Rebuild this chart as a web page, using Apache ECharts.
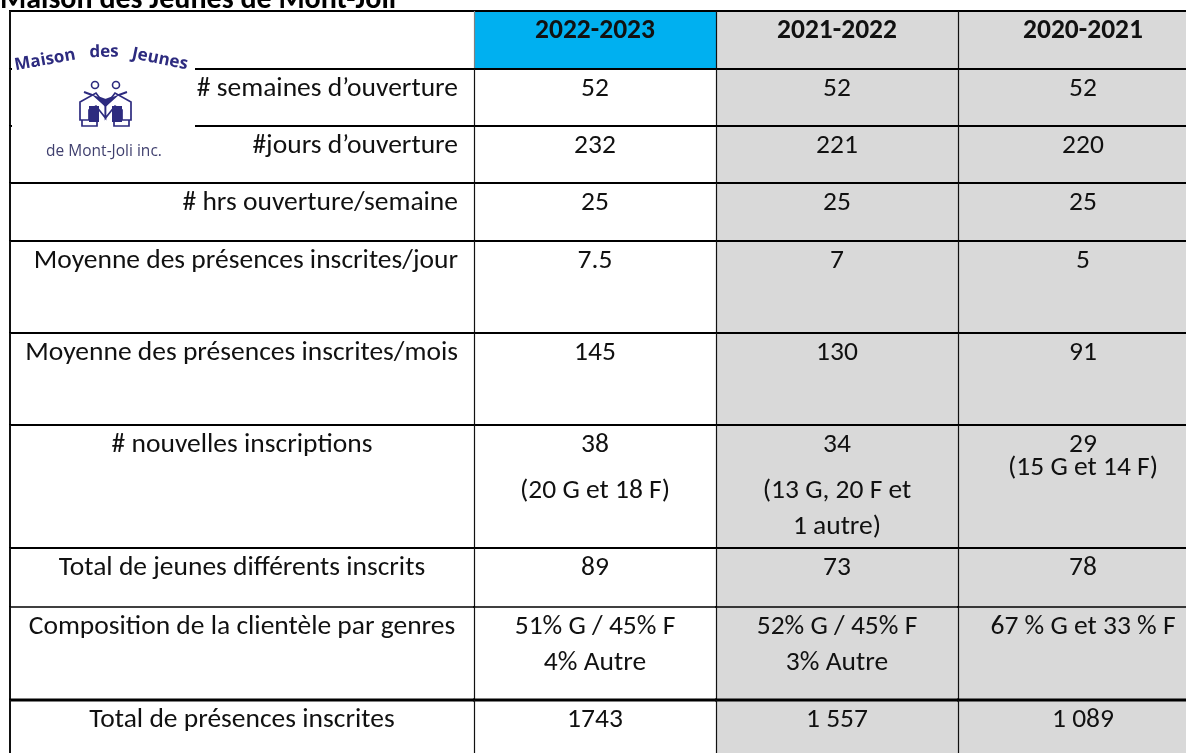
<!DOCTYPE html>
<html>
<head>
<meta charset="utf-8">
<script src="https://cdn.jsdelivr.net/npm/echarts@6/dist/echarts.min.js"></script>
<style>
  html, body { margin: 0; padding: 0; background: #fff; }
  #main { width: 1186px; height: 753px; }
</style>
</head>
<body>
<div id="main"></div>
<script>
// données du tableau
var years = ['2022-2023', '2021-2022', '2020-2021'];
var labels = [
  '# semaines d\u2019ouverture',
  '#jours d\u2019ouverture',
  '# hrs ouverture/semaine',
  'Moyenne des présences inscrites/jour',
  'Moyenne des présences inscrites/mois',
  '# nouvelles inscriptions',
  'Total de jeunes différents inscrits',
  'Composition de la clientèle par genres',
  'Total de présences inscrites'
];
var values2022 = ['52', '232', '25', '7.5', '145', ['38', '(20 G et 18 F)'], '89', ['51% G / 45% F', '4% Autre'], '1743'];
var values2021 = ['52', '221', '25', '7', '130', ['34', '(13 G, 20 F et', '1 autre)'], '73', ['52% G / 45% F', '3% Autre'], '1\u202f557'];
var values2020 = ['52', '220', '25', '5', '91', ['29', '(15 G et 14 F)'], '78', '67 % G et 33 % F', '1\u202f089'];

// mise en page
var colWidths = [464, 242, 242, 250];
var rowHeights = [58, 57, 57, 58, 92, 92, 123, 59, 93, 58];
var rowTopWidth = [2, 2, 2, 2, 2, 2, 2, 2, 1.5, 3];
var labelAlign = ['right', 'right', 'right', 'right', 'right', 'center', 'center', 'center', 'center'];
var colFill = ['#ffffff', '#ffffff', '#d9d9d9', '#d9d9d9'];
var headerFill = ['#ffffff', '#00b0f0', '#d9d9d9', '#d9d9d9'];
var FONT = 'Carlito, Calibri, Lato, sans-serif';
var FS = 27.5;

function cum(arr, n) {
  var s = 0;
  for (var i = 0; i < n; i++) s += arr[i];
  return s;
}

// construire les cellules
var cells = [];
var seriesData = [];
function addCell(col, row, text, bold) {
  var lines = Array.isArray(text) ? text : [text];
  cells.push({ lines: lines, bold: bold });
  seriesData.push([col, row]);
}
addCell(0, 0, '', false);
years.forEach(function (y, i) { addCell(i + 1, 0, y, true); });
var allValues = [values2022, values2021, values2020];
labels.forEach(function (lab, r) {
  addCell(0, r + 1, lab, false);
  allValues.forEach(function (vals, c) { addCell(c + 1, r + 1, vals[r], false); });
});

function lineOffsets(col, row, n) {
  if (row === 6 && col > 0) {
    if (col === 3) return [20, 43];
    return [20, 66, 102];
  }
  var out = [];
  for (var i = 0; i < n; i++) out.push(20 + 36 * i);
  return out;
}

function renderItem(params, api) {
  var col = api.value(0), row = api.value(1);
  var x0 = cum(colWidths, col), y0 = cum(rowHeights, row);
  var p0 = api.coord([x0, y0]);
  var p1 = api.coord([x0 + colWidths[col], y0 + rowHeights[row]]);
  var cell = cells[params.dataIndex];
  var kids = [];
  kids.push({
    type: 'rect', z2: 0,
    shape: { x: p0[0], y: p0[1], width: p1[0] - p0[0], height: p1[1] - p0[1] },
    style: { fill: row === 0 ? headerFill[col] : colFill[col] }
  });
  // bord du haut
  kids.push({
    type: 'line', z2: 10,
    shape: { x1: p0[0] - 1, y1: p0[1], x2: p1[0] + 1, y2: p0[1] },
    style: { stroke: '#000', lineWidth: rowTopWidth[row] }
  });
  // bord gauche
  var lw = col === 0 ? 2 : 1.2;
  var ls = (col === 1 && row === 0) ? '#808080' : '#111';
  var lx = p0[0] + (col === 0 ? 0 : 0.5);
  kids.push({
    type: 'line', z2: 10,
    shape: { x1: lx, y1: p0[1], x2: lx, y2: p1[1] },
    style: { stroke: ls, lineWidth: lw }
  });
  if (row === rowHeights.length - 1) {
    kids.push({
      type: 'line', z2: 10,
      shape: { x1: p0[0], y1: p1[1], x2: p1[0], y2: p1[1] },
      style: { stroke: '#000', lineWidth: 2 }
    });
  }
  var offs = lineOffsets(col, row, cell.lines.length);
  var align = col === 0 ? labelAlign[row - 1] : 'center';
  var tx = align === 'right' ? p1[0] - 16 : (p0[0] + p1[0]) / 2;
  cell.lines.forEach(function (t, i) {
    kids.push({
      type: 'text', z2: 20,
      x: tx, y: p0[1] + offs[i],
      style: {
        text: t, fill: '#111',
        font: (cell.bold ? 'bold ' : '') + FS + 'px ' + FONT,
        align: align, verticalAlign: 'middle'
      }
    });
  });
  return { type: 'group', children: kids };
}

// logo (décoratif)
var NAVY = '#2d2b7f';
var LOGO_FONT = 'bold 17px "Open Sans", sans-serif';
var logoParts = [
  { type: 'rect', shape: { x: 0, y: 0, width: 183, height: 142 }, style: { fill: '#fff' } },
  { type: 'text', x: 33, y: 22, rotation: 0.18, style: { text: 'Maison', font: LOGO_FONT, fill: NAVY, align: 'center', verticalAlign: 'middle' } },
  { type: 'text', x: 92, y: 14, rotation: 0.02, style: { text: 'des', font: LOGO_FONT, fill: NAVY, align: 'center', verticalAlign: 'middle' } },
  { type: 'text', x: 148, y: 21, rotation: -0.2, style: { text: 'Jeunes', font: LOGO_FONT, fill: NAVY, align: 'center', verticalAlign: 'middle' } },
  // icône
  { type: 'circle', shape: { cx: 83, cy: 47, r: 3.5 }, style: { fill: 'none', stroke: NAVY, lineWidth: 1.6 } },
  { type: 'circle', shape: { cx: 104, cy: 47, r: 3.5 }, style: { fill: 'none', stroke: NAVY, lineWidth: 1.6 } },
  { type: 'polyline', shape: { points: [[72, 54], [93.5, 62], [115, 54]] }, style: { stroke: NAVY, lineWidth: 2, fill: 'none' } },
  { type: 'polygon', shape: { points: [[68, 64], [84, 55], [93.5, 68], [93.5, 80], [84, 68], [77, 72], [77, 82], [68, 82]] }, style: { fill: '#fff', stroke: NAVY, lineWidth: 1.7 } },
  { type: 'polygon', shape: { points: [[119, 64], [103, 55], [93.5, 68], [93.5, 80], [103, 68], [110, 72], [110, 82], [119, 82]] }, style: { fill: '#fff', stroke: NAVY, lineWidth: 1.7 } },
  { type: 'polygon', shape: { points: [[79, 56], [93.5, 62], [108, 56], [93.5, 69]] }, style: { fill: NAVY } },
  { type: 'rect', shape: { x: 77, y: 68, width: 10, height: 16 }, style: { fill: NAVY } },
  { type: 'rect', shape: { x: 100, y: 68, width: 10, height: 16 }, style: { fill: NAVY } },
  { type: 'polyline', shape: { points: [[70, 82], [70, 88], [85, 88], [85, 82]] }, style: { stroke: NAVY, lineWidth: 1.7, fill: 'none' } },
  { type: 'polyline', shape: { points: [[102, 82], [102, 88], [117, 88], [117, 82]] }, style: { stroke: NAVY, lineWidth: 1.7, fill: 'none' } },
  { type: 'text', x: 92, y: 114, style: { text: 'de Mont-Joli inc.', font: '15.5px "Open Sans", sans-serif', fill: '#3f3f6e', align: 'center', verticalAlign: 'middle' } }
];
logoParts.forEach(function (p) { p.z = 100; p.silent = true; });

var chart = echarts.init(document.getElementById('main'));
chart.setOption({
  animation: false,
  grid: {
    left: 10, top: 11,
    width: cum(colWidths, colWidths.length),
    height: cum(rowHeights, rowHeights.length),
    outerBoundsMode: 'none'
  },
  xAxis: { type: 'value', min: 0, max: cum(colWidths, colWidths.length), show: false },
  yAxis: { type: 'value', min: 0, max: cum(rowHeights, rowHeights.length), inverse: true, show: false },
  series: [{
    type: 'custom',
    renderItem: renderItem,
    data: seriesData,
    clip: false,
    silent: true
  }],
  graphic: [
    {
      type: 'text', left: 0, top: -15, z: 100,
      style: { text: 'Maison des Jeunes de Mont-Joli', font: 'bold 30px ' + FONT, fill: '#000' }
    },
    { type: 'group', z: 100, left: 12, top: 38, children: logoParts }
  ]
});
</script>
</body>
</html>
